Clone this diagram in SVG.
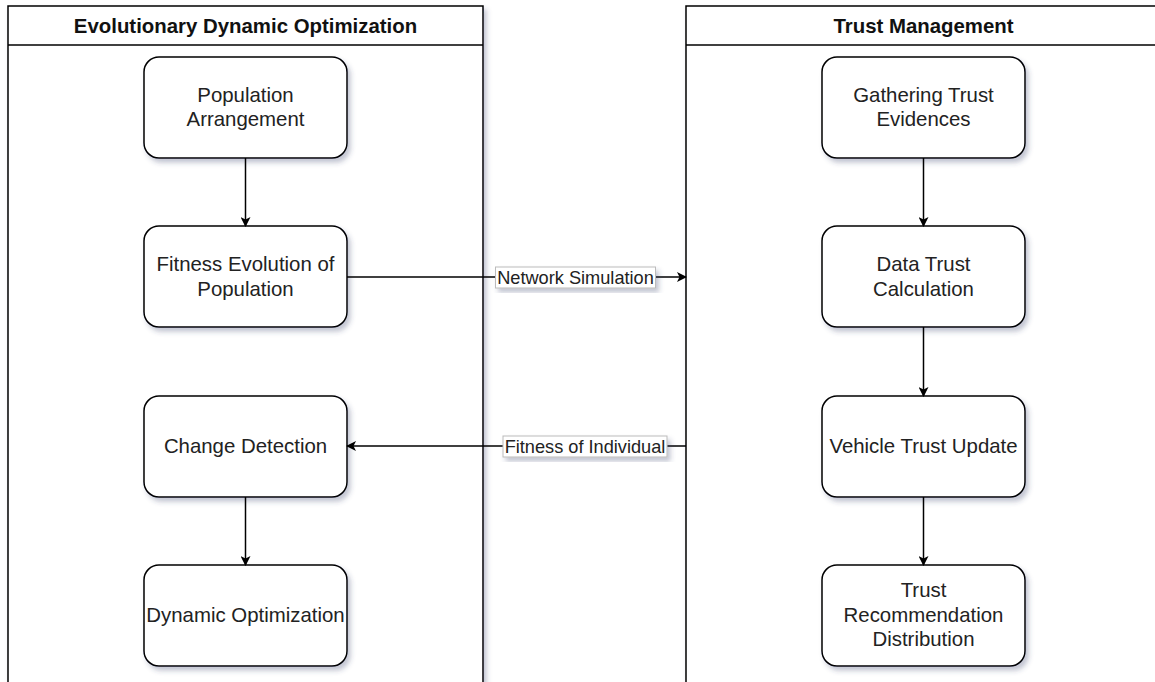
<svg xmlns="http://www.w3.org/2000/svg" width="1155" height="682" viewBox="0 0 1155 682">
<style>
.lane{fill:#ffffff;stroke:#000000;stroke-width:1.5;filter:url(#sh)}
.node rect{fill:#ffffff;stroke:#000000;stroke-width:1.5;filter:url(#sh)}
.nt{font-family:"Liberation Sans",Arial,sans-serif;font-size:20.4px;fill:#222222;text-anchor:middle}
.ht{font-family:"Liberation Sans",Arial,sans-serif;font-size:20.4px;font-weight:bold;fill:#111111;text-anchor:middle}
.lt{font-family:"Liberation Sans",Arial,sans-serif;font-size:18.2px;fill:#222222;text-anchor:middle}
.edge{stroke:#000000;stroke-width:1.5;fill:none}
.lbl{fill:#ffffff;stroke:#bbbbbb;stroke-width:1;filter:url(#sh)}
</style>
<defs>
<filter id="sh" x="-10%" y="-10%" width="130%" height="130%">
<feDropShadow dx="3" dy="4" stdDeviation="2.5" flood-color="#3b3f6b" flood-opacity="0.3"/>
</filter>
<marker id="arr" viewBox="0 0 10 10" refX="9" refY="5" markerWidth="10" markerHeight="10" markerUnits="userSpaceOnUse" orient="auto">
<path d="M0,0 L10,5 L0,10 L2.5,5 Z" fill="#000000"/>
</marker>
</defs>
<g id="lane-edo">
<rect class="lane" x="8" y="6" width="475" height="700"/>
<line x1="8" y1="45" x2="483" y2="45" stroke="#000" stroke-width="1.5"/>
<text class="ht" x="245.5" y="33">Evolutionary Dynamic Optimization</text>
</g>
<g id="lane-tm">
<rect class="lane" x="686" y="6" width="500" height="700"/>
<line x1="686" y1="45" x2="1186" y2="45" stroke="#000" stroke-width="1.5"/>
<text class="ht" x="923.5" y="33">Trust Management</text>
</g>
<g id="n1" class="node"><rect x="144" y="57" width="203" height="101" rx="15"/><text class="nt" x="245.5" y="101.5">Population</text><text class="nt" x="245.5" y="126.2">Arrangement</text></g>
<g id="n2" class="node"><rect x="144" y="226" width="203" height="101" rx="15"/><text class="nt" x="245.5" y="271.3">Fitness Evolution of</text><text class="nt" x="245.5" y="296">Population</text></g>
<g id="n3" class="node"><rect x="144" y="396" width="203" height="101" rx="15"/><text class="nt" x="245.5" y="452.7">Change Detection</text></g>
<g id="n4" class="node"><rect x="144" y="565" width="203" height="101" rx="15"/><text class="nt" x="245.5" y="621.7">Dynamic Optimization</text></g>
<g id="n5" class="node"><rect x="822" y="57" width="203" height="101" rx="15"/><text class="nt" x="923.5" y="101.5">Gathering Trust</text><text class="nt" x="923.5" y="126.2">Evidences</text></g>
<g id="n6" class="node"><rect x="822" y="226" width="203" height="101" rx="15"/><text class="nt" x="923.5" y="271.3">Data Trust</text><text class="nt" x="923.5" y="296">Calculation</text></g>
<g id="n7" class="node"><rect x="822" y="396" width="203" height="101" rx="15"/><text class="nt" x="923.5" y="452.7">Vehicle Trust Update</text></g>
<g id="n8" class="node"><rect x="822" y="565" width="203" height="101" rx="15"/><text class="nt" x="923.5" y="597">Trust</text><text class="nt" x="923.5" y="621.7">Recommendation</text><text class="nt" x="923.5" y="646.4">Distribution</text></g>
<g id="connectors">
<line class="edge" x1="245.5" y1="158" x2="245.5" y2="226" marker-end="url(#arr)"/>
<line class="edge" x1="245.5" y1="497" x2="245.5" y2="565" marker-end="url(#arr)"/>
<line class="edge" x1="923.5" y1="158" x2="923.5" y2="226" marker-end="url(#arr)"/>
<line class="edge" x1="923.5" y1="327" x2="923.5" y2="396" marker-end="url(#arr)"/>
<line class="edge" x1="923.5" y1="497" x2="923.5" y2="565" marker-end="url(#arr)"/>
<line class="edge" x1="347" y1="277" x2="686" y2="277" marker-end="url(#arr)"/>
<rect class="lbl" x="495.5" y="267" width="160" height="21"/>
<text class="lt" x="575.5" y="283.5">Network Simulation</text>
<line class="edge" x1="686" y1="446" x2="347" y2="446" marker-end="url(#arr)"/>
<rect class="lbl" x="503" y="436" width="164" height="21"/>
<text class="lt" x="585" y="452.5">Fitness of Individual</text>
</g>
</svg>
